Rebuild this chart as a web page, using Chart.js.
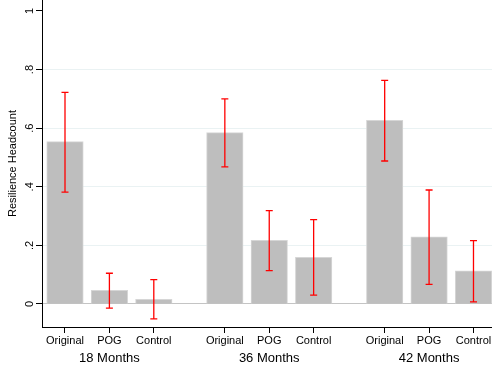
<!DOCTYPE html>
<html><head><meta charset="utf-8">
<script src="https://cdn.jsdelivr.net/npm/chart.js@4.4.1/dist/chart.umd.min.js"></script>
<style>html,body{margin:0;padding:0;background:#fff;} #c{display:block;}</style>
</head><body>
<canvas id="c" width="492" height="373"></canvas>
<script>
const groups = ["18 Months", "36 Months", "42 Months"];
const subcats = ["Original", "POG", "Control"];
const meanOriginal = [0.554, 0.585, 0.627];
const meanPOG = [0.047, 0.217, 0.229];
const meanControl = [0.016, 0.159, 0.113];
const loOriginal = [0.382, 0.468, 0.488];
const hiOriginal = [0.722, 0.700, 0.763];
const loPOG = [-0.014, 0.114, 0.067];
const hiPOG = [0.105, 0.319, 0.389];
const loControl = [-0.051, 0.030, 0.007];
const hiControl = [0.083, 0.288, 0.216];
const yTickValues = [0, 0.2, 0.4, 0.6, 0.8, 1];
const yTickLabels = ["0", ".2", ".4", ".6", ".8", "1"];

const means = [meanOriginal, meanPOG, meanControl];
const los = [loOriginal, loPOG, loControl];
const his = [hiOriginal, hiPOG, hiControl];

const GROUP_GAP = 0.6;
const slot = (g, i) => g * (subcats.length + GROUP_GAP) + i;

const subTickPos = [], subTickText = [];
groups.forEach((g, gi) => subcats.forEach((s, si) => { subTickPos.push(slot(gi, si)); subTickText.push(s); }));
const groupTickPos = groups.map((g, gi) => slot(gi, 1));

const datasets = subcats.map((s, si) => ({
  label: s,
  data: groups.map((g, gi) => ({ x: slot(gi, si), y: means[si][gi] })),
  errLo: los[si],
  errHi: his[si],
  backgroundColor: '#bebebe',
  borderColor: '#d6d6d6',
  borderWidth: 1,
  barThickness: 36.5,
  grouped: false
}));

const errorBars = {
  id: 'errorBars',
  afterDatasetsDraw(chart) {
    const ctx = chart.ctx, y = chart.scales.y;
    chart.data.datasets.forEach((ds, di) => {
      const meta = chart.getDatasetMeta(di);
      meta.data.forEach((bar, j) => {
        const x = bar.x;
        const yl = y.getPixelForValue(ds.errLo[j]);
        const yh = y.getPixelForValue(ds.errHi[j]);
        ctx.save();
        ctx.strokeStyle = '#ff0000';
        ctx.lineWidth = 1.3;
        ctx.beginPath();
        ctx.moveTo(x, yl); ctx.lineTo(x, yh);
        ctx.moveTo(x - 3.5, yl); ctx.lineTo(x + 3.5, yl);
        ctx.moveTo(x - 3.5, yh); ctx.lineTo(x + 3.5, yh);
        ctx.stroke();
        ctx.restore();
      });
    });
  }
};

Chart.defaults.font.family = '"Liberation Sans", Arial, Helvetica, sans-serif';
Chart.defaults.color = '#000';

new Chart(document.getElementById('c'), {
  type: 'bar',
  data: { datasets },
  plugins: [errorBars],
  options: {
    responsive: false,
    animation: false,
    devicePixelRatio: 1,
    layout: { padding: 0 },
    plugins: { legend: { display: false }, tooltip: { enabled: false } },
    scales: {
      x: {
        type: 'linear', min: -0.518, max: 9.617, bounds: 'data', weight: 0, offset: false,
        afterBuildTicks: s => { s.ticks = subTickPos.map(v => ({ value: v })); },
        ticks: { callback: (v, i) => subTickText[i], font: { size: 11 }, color: '#000', padding: 1, minRotation: 0, maxRotation: 0, autoSkip: false },
        grid: { offset: false, drawOnChartArea: false, drawTicks: true, tickLength: 6, tickColor: '#000', lineWidth: 1 },
        border: { display: true, color: '#000', width: 1 },
        afterFit: s => { s.height = 20; s.paddingLeft = 0; s.paddingRight = 0; }
      },
      xg: {
        type: 'linear', position: 'bottom', min: -0.518, max: 9.617, bounds: 'data', weight: 1, offset: false,
        afterBuildTicks: s => { s.ticks = groupTickPos.map(v => ({ value: v })); },
        ticks: { callback: (v, i) => groups[i], font: { size: 13 }, color: '#000', padding: 4, minRotation: 0, maxRotation: 0, autoSkip: false },
        grid: { display: false, drawTicks: false, offset: false },
        border: { display: false },
        afterFit: s => { s.height = 26; s.paddingLeft = 0; s.paddingRight = 0; }
      },
      y: {
        type: 'linear', min: -0.0785, max: 1.0375, bounds: 'data',
        afterBuildTicks: s => { s.ticks = yTickValues.map(v => ({ value: v })); },
        ticks: { callback: (v, i) => yTickLabels[i], minRotation: 90, maxRotation: 90, crossAlign: 'center', padding: 1.5, font: { size: 11 }, color: '#000', autoSkip: false },
        grid: {
          color: c => (c.tick && c.tick.value === 0) ? '#c4c4c4' : ((c.tick && c.tick.value === 1) ? 'rgba(0,0,0,0)' : '#eaf2f3'),
          tickColor: '#000', tickLength: 6, lineWidth: 1
        },
        border: { display: true, color: '#000', width: 1 },
        title: { display: true, text: 'Resilience Headcount', font: { size: 11 }, color: '#000', padding: { top: 6, bottom: 0 } },
        afterFit: s => { s.width = 42; s.paddingTop = 0; s.paddingBottom = 0; }
      }
    }
  }
});
</script>
</body></html>
